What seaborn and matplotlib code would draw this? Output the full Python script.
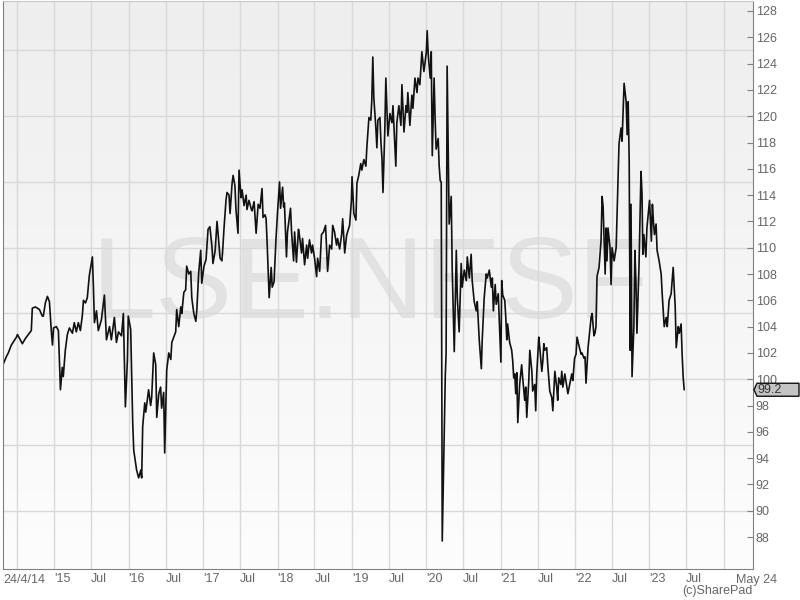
import matplotlib
matplotlib.use("Agg")
import matplotlib.pyplot as plt
import matplotlib.dates as mdates
import matplotlib.ticker as mticker
from matplotlib.colors import LinearSegmentedColormap
from matplotlib.patches import Polygon
import numpy as np
import pandas as pd
import seaborn as sns

# Cotações (LSE:NESF)
datas = [
    "2014-04-24", "2014-05-10", "2014-05-20", "2014-06-04", "2014-06-29", "2014-07-04", "2014-07-28",
    "2014-08-12", "2014-09-10", "2014-09-15", "2014-09-30", "2014-10-20", "2014-11-03", "2014-11-08",
    "2014-11-18", "2014-11-28", "2014-12-08", "2014-12-18", "2014-12-23", "2014-12-28",
    "2015-01-11", "2015-01-21", "2015-01-31", "2015-02-09", "2015-02-14", "2015-02-24", "2015-03-06",
    "2015-03-16", "2015-03-31", "2015-04-09", "2015-04-19", "2015-04-29", "2015-05-09", "2015-05-19",
    "2015-05-24", "2015-06-03", "2015-06-12", "2015-06-22", "2015-07-07", "2015-07-12", "2015-07-17",
    "2015-07-27", "2015-08-05", "2015-08-20", "2015-09-04", "2015-09-14", "2015-09-29", "2015-10-08",
    "2015-10-23", "2015-11-02", "2015-11-12", "2015-11-27", "2015-12-06", "2015-12-16", "2015-12-26",
    "2015-12-30",
    "2016-01-11", "2016-01-21", "2016-01-26", "2016-02-04", "2016-02-09", "2016-02-19", "2016-03-01",
    "2016-03-05", "2016-03-10", "2016-03-20", "2016-03-25", "2016-04-08", "2016-04-18", "2016-04-23",
    "2016-05-03", "2016-05-13", "2016-05-18", "2016-05-28", "2016-06-06", "2016-06-11", "2016-06-21",
    "2016-06-26", "2016-07-06", "2016-07-16", "2016-07-26", "2016-07-31", "2016-08-19", "2016-08-24",
    "2016-09-03", "2016-09-13", "2016-09-18", "2016-09-28", "2016-10-07", "2016-10-12", "2016-10-22",
    "2016-11-01", "2016-11-06", "2016-11-16", "2016-11-26", "2016-12-01", "2016-12-10", "2016-12-20",
    "2016-12-25",
    "2017-01-05", "2017-01-15", "2017-01-25", "2017-02-03", "2017-02-13", "2017-02-18", "2017-03-01",
    "2017-03-10", "2017-03-15", "2017-03-25", "2017-04-03", "2017-04-08", "2017-04-13", "2017-04-23",
    "2017-04-28", "2017-05-08", "2017-05-13", "2017-05-23", "2017-05-28", "2017-06-06", "2017-06-11",
    "2017-06-21", "2017-06-26", "2017-07-06", "2017-07-11", "2017-07-21", "2017-07-31", "2017-08-04",
    "2017-08-14", "2017-08-24", "2017-08-29", "2017-09-08", "2017-09-18", "2017-09-28", "2017-10-07",
    "2017-10-17", "2017-10-22", "2017-11-01", "2017-11-06", "2017-11-11", "2017-11-21", "2017-12-01",
    "2017-12-06", "2017-12-15", "2017-12-25",
    "2018-01-02", "2018-01-11", "2018-01-16", "2018-01-26", "2018-01-31", "2018-02-04", "2018-02-14",
    "2018-02-19", "2018-02-24", "2018-03-06", "2018-03-11", "2018-03-21", "2018-03-26", "2018-04-04",
    "2018-04-14", "2018-04-19", "2018-04-29", "2018-05-04", "2018-05-14", "2018-05-24", "2018-05-29",
    "2018-06-07", "2018-06-17", "2018-06-22", "2018-07-02", "2018-07-12", "2018-07-17", "2018-07-27",
    "2018-08-05", "2018-08-15", "2018-08-25", "2018-09-04", "2018-09-14", "2018-09-24", "2018-09-29",
    "2018-10-08", "2018-10-18", "2018-10-23", "2018-11-02", "2018-11-12", "2018-11-17", "2018-11-27",
    "2018-12-06", "2018-12-11", "2018-12-21", "2018-12-30",
    "2019-01-02", "2019-01-11", "2019-01-21", "2019-01-26", "2019-02-04", "2019-02-14", "2019-02-19",
    "2019-03-01", "2019-03-11", "2019-03-16", "2019-03-26", "2019-04-04", "2019-04-09", "2019-04-14",
    "2019-04-19", "2019-04-29", "2019-05-04", "2019-05-09", "2019-05-19", "2019-05-24", "2019-05-29",
    "2019-06-03", "2019-06-12", "2019-06-17", "2019-06-27", "2019-07-07", "2019-07-17", "2019-07-22",
    "2019-08-05", "2019-08-10", "2019-08-20", "2019-08-30", "2019-09-04", "2019-09-14", "2019-09-24",
    "2019-09-29", "2019-10-03", "2019-10-13", "2019-10-23", "2019-10-28", "2019-11-07", "2019-11-17",
    "2019-11-22", "2019-12-01", "2019-12-06", "2019-12-11", "2019-12-21",
    "2020-01-02", "2020-01-06", "2020-01-11", "2020-01-21", "2020-01-26", "2020-01-31", "2020-02-09",
    "2020-02-14", "2020-02-19", "2020-02-29", "2020-03-05", "2020-03-10", "2020-03-15", "2020-03-20",
    "2020-04-04", "2020-04-08", "2020-04-13", "2020-04-23", "2020-05-03", "2020-05-08", "2020-05-18",
    "2020-05-28", "2020-06-02", "2020-06-11", "2020-06-21", "2020-06-26", "2020-07-06", "2020-07-16",
    "2020-07-21", "2020-07-31", "2020-08-09", "2020-08-14", "2020-08-24", "2020-09-03", "2020-09-08",
    "2020-09-18", "2020-09-28", "2020-10-02", "2020-10-12", "2020-10-22", "2020-10-27", "2020-11-06",
    "2020-11-16", "2020-11-21", "2020-11-26", "2020-12-05", "2020-12-10", "2020-12-20",
    "2021-01-02", "2021-01-06", "2021-01-11", "2021-01-21", "2021-01-26", "2021-01-31", "2021-02-04",
    "2021-02-14", "2021-02-24", "2021-03-01", "2021-03-06", "2021-03-11", "2021-03-16", "2021-03-21",
    "2021-03-26", "2021-04-04", "2021-04-14", "2021-04-19", "2021-04-29", "2021-05-04", "2021-05-09",
    "2021-05-19", "2021-05-24", "2021-06-03", "2021-06-07", "2021-06-17", "2021-06-22", "2021-06-27",
    "2021-07-07", "2021-07-12", "2021-07-22", "2021-07-27", "2021-08-01", "2021-08-05", "2021-08-15",
    "2021-08-20", "2021-08-30", "2021-09-09", "2021-09-14", "2021-09-19", "2021-09-24", "2021-10-03",
    "2021-10-08", "2021-10-13", "2021-10-23", "2021-10-28", "2021-11-02", "2021-11-12", "2021-11-22",
    "2021-11-27", "2021-12-06", "2021-12-16", "2021-12-21", "2021-12-30",
    "2022-01-06", "2022-01-11", "2022-01-21", "2022-01-31", "2022-02-04", "2022-02-14", "2022-02-19",
    "2022-02-24", "2022-03-06", "2022-03-16", "2022-03-21", "2022-03-26", "2022-04-04", "2022-04-09",
    "2022-04-14", "2022-04-19", "2022-04-29", "2022-05-09", "2022-05-14", "2022-05-19", "2022-05-24",
    "2022-05-29", "2022-06-03", "2022-06-07", "2022-06-12", "2022-06-22", "2022-06-27", "2022-07-02",
    "2022-07-12", "2022-07-22", "2022-07-27", "2022-08-05", "2022-08-15", "2022-08-20", "2022-08-25",
    "2022-08-30", "2022-09-09", "2022-09-14", "2022-09-19", "2022-09-24", "2022-09-29", "2022-10-03",
    "2022-10-08", "2022-10-17", "2022-10-22", "2022-10-27", "2022-11-01", "2022-11-11", "2022-11-21",
    "2022-11-26", "2022-11-30", "2022-12-05", "2022-12-15", "2022-12-20",
    "2023-01-02", "2023-01-11", "2023-01-16", "2023-01-21", "2023-01-26", "2023-02-03", "2023-02-08",
    "2023-02-18", "2023-02-28", "2023-03-05", "2023-03-15", "2023-03-25", "2023-03-30", "2023-04-08",
    "2023-04-18", "2023-04-23", "2023-04-28", "2023-05-03", "2023-05-08", "2023-05-13", "2023-05-23",
    "2023-05-28", "2023-06-06", "2023-06-11", "2023-06-16", "2023-06-21",
]
precos = [
    101.1, 101.7, 102.0, 102.6, 103.2, 103.4, 102.7,
    103.1, 103.7, 105.4, 105.5, 105.3, 104.8, 104.8,
    105.8, 106.3, 105.9, 103.5, 102.6, 103.9,
    104.0, 103.7, 99.2, 100.9, 100.2, 102.2, 103.4,
    103.9, 103.5, 104.3, 103.6, 104.3, 103.7, 104.9,
    106.0, 105.8, 106.2, 107.9, 109.3, 107.0, 104.3,
    105.2, 103.7, 104.5, 106.4, 103.0, 104.0, 103.0,
    104.7, 102.8, 103.6, 103.3, 105.0, 97.9, 101.5,
    104.8,
    103.8, 96.7, 94.6, 93.6, 93.1, 92.5, 93.1,
    92.5, 96.4, 98.2, 97.5, 99.2, 98.0, 98.6,
    102.0, 101.1, 97.1, 98.9, 99.4, 97.8, 99.0,
    94.4, 100.7, 102.0, 101.5, 102.8, 103.6, 105.3,
    104.0, 105.5, 105.0, 106.6, 106.8, 108.6, 108.0,
    108.2, 106.2, 105.0, 104.4, 105.3, 108.1, 109.8,
    107.3,
    108.6, 109.1, 111.4, 111.6, 110.1, 108.8, 109.8,
    112.0, 111.1, 109.2, 109.0, 110.1, 111.4, 113.6,
    114.2, 114.0, 112.6, 114.9, 115.5, 114.7, 112.9,
    111.1, 115.9, 113.8, 114.4, 113.2, 114.0, 112.9,
    113.6, 113.0, 112.8, 113.5, 111.1, 113.3, 113.0,
    114.5, 112.3, 112.5, 112.2, 110.4, 106.2, 108.5,
    107.0, 107.4, 110.8,
    112.9, 115.0, 113.0, 114.6, 113.1, 113.4, 109.3,
    111.2, 111.8, 113.0, 111.2, 109.0, 111.2, 108.9,
    111.4, 110.9, 109.6, 110.7, 108.7, 110.2, 109.2,
    110.6, 109.6, 110.2, 109.2, 107.8, 109.2, 108.2,
    111.0, 111.2, 111.7, 108.2, 110.2, 109.9, 111.7,
    111.2, 110.2, 110.7, 109.9, 111.0, 112.2, 109.6,
    110.9, 111.2, 111.7, 113.6,
    115.4, 112.6, 112.1, 114.9, 115.5, 116.4, 115.9,
    116.7, 116.2, 117.7, 119.9, 119.7, 121.2, 124.5,
    121.4, 119.1, 117.6, 119.7, 119.9, 118.0, 116.8,
    114.2, 119.0, 122.9, 118.5, 120.2, 119.5, 120.8,
    116.2, 119.5, 120.8, 119.3, 122.4, 118.8, 120.8,
    120.3, 121.8, 119.3, 121.6, 120.6, 122.9, 121.8,
    122.9, 122.4, 123.6, 124.9, 123.4,
    124.9, 126.5, 124.7, 122.9, 124.9, 117.0, 122.9,
    119.8, 117.5, 118.3, 116.2, 115.1, 115.0, 87.7,
    100.3, 102.0, 123.8, 111.8, 113.9, 108.3, 102.1,
    109.8, 106.2, 103.6, 108.8, 107.0, 108.3, 107.5,
    109.3, 107.7, 109.5, 107.5, 105.9, 105.2, 105.9,
    102.9, 100.8, 102.9, 106.2, 108.0, 107.7, 108.3,
    107.0, 107.7, 105.2, 107.2, 105.7, 106.5,
    101.3, 107.5, 106.4, 106.0, 104.7, 103.0, 104.2,
    102.8, 102.2, 101.4, 100.1, 100.4, 98.9, 100.5,
    96.7, 99.6, 101.1, 100.1, 98.4, 99.4, 97.1,
    99.9, 102.2, 100.6, 99.1, 99.6, 97.6, 100.4,
    103.2, 102.4, 100.6, 101.4, 102.7, 102.2, 102.4,
    101.1, 99.1, 98.6, 97.6, 99.1, 100.6, 99.4,
    98.4, 100.1, 99.6, 100.6, 99.4, 100.4, 99.4,
    98.9, 99.6, 100.4, 99.9, 101.6,
    101.9, 103.2, 102.5, 101.9, 102.0, 101.6, 101.7,
    99.7, 102.4, 103.9, 104.7, 105.0, 103.3, 103.5,
    104.0, 107.8, 108.5, 110.6, 113.9, 113.1, 110.5,
    108.0, 111.5, 109.0, 111.5, 110.0, 107.2, 110.0,
    109.0, 110.0, 112.8, 117.9, 119.1, 118.1, 120.4,
    122.5, 121.1, 118.6, 121.1, 116.6, 102.2, 113.3,
    100.2, 104.0, 109.8, 107.5, 103.5, 108.5, 115.8,
    114.1, 109.5, 111.0, 109.3, 111.5,
    113.6, 110.5, 113.3, 112.0, 111.0, 111.8, 109.8,
    109.0, 108.0, 106.5, 104.0, 104.7, 104.0, 106.0,
    106.5, 107.5, 108.5, 107.0, 105.5, 102.4, 104.0,
    103.5, 104.2, 101.9, 100.2, 99.2,
]

# Eixo X: marcas semestrais (com grade) e trimestrais
marcas_x = ["2014-07-01", "2015-01-01", "2015-07-01", "2016-01-01", "2016-07-01", "2017-01-01",
            "2017-07-01", "2018-01-01", "2018-07-01", "2019-01-01", "2019-07-01", "2020-01-01",
            "2020-07-01", "2021-01-01", "2021-07-01", "2022-01-01", "2022-07-01", "2023-01-01",
            "2023-07-01", "2024-01-01"]
rotulos_x = ["", "'15", "Jul", "'16", "Jul", "'17", "Jul", "'18", "Jul", "'19", "Jul", "'20",
             "Jul", "'21", "Jul", "'22", "Jul", "'23", "Jul", ""]
marcas_trim = ["2014-10-01", "2015-04-01", "2015-10-01", "2016-04-01", "2016-10-01", "2017-04-01",
               "2017-10-01", "2018-04-01", "2018-10-01", "2019-04-01", "2019-10-01", "2020-04-01",
               "2020-10-01", "2021-04-01", "2021-10-01", "2022-04-01", "2022-10-01", "2023-04-01",
               "2023-10-01", "2024-04-01"]
marcas_y = list(range(88, 129, 2))
grade_y = list(range(90, 126, 5))
inicio, fim = "2014-04-24", "2024-05-24"
rotulo_inicio, rotulo_fim = "24/4/14", "May 24"
ticker_nome = "LSE:NESF"

df = pd.DataFrame({"Data": pd.to_datetime(datas), "Preco": precos})

sns.set_style("white")
plt.rcParams["font.family"] = ["Liberation Sans", "DejaVu Sans"]
cinza = "#666666"

fig = plt.figure(figsize=(8, 6), dpi=100)
ret = [3 / 800, 31 / 600, 750 / 800, 568 / 600]

# fundo em degradê + marca d'água
fundo = fig.add_axes(ret, zorder=0)
grad = np.linspace(0, 1, 256).reshape(-1, 1)
cmap = LinearSegmentedColormap.from_list("g", ["#eeeeee", "#fdfdfd"])
fundo.imshow(grad, aspect="auto", cmap=cmap, extent=[0, 1, 0, 1])
fundo.text(0.49, 0.493, ticker_nome, ha="center", va="center", fontsize=83,
           color="#e2e2e2", transform=fundo.transAxes)
fundo.axis("off")

ax = fig.add_axes(ret, zorder=1)
ax.set_facecolor("none")
for g in grade_y:
    ax.axhline(g, color="#d8d8d8", linewidth=1, zorder=0)
sns.lineplot(data=df, x="Data", y="Preco", ax=ax, color="#111111", linewidth=1.2)

ax.set_xlim(pd.Timestamp(inicio), pd.Timestamp(fim))
ax.set_ylim(85.57, 128.76)

ax.xaxis.set_major_locator(mticker.FixedLocator(mdates.date2num(pd.to_datetime(marcas_x))))
ax.xaxis.set_major_formatter(mticker.FixedFormatter(rotulos_x))
ax.xaxis.set_minor_locator(mticker.FixedLocator(mdates.date2num(pd.to_datetime(marcas_trim))))
ax.yaxis.tick_right()
ax.yaxis.set_major_locator(mticker.FixedLocator(marcas_y))

ax.grid(axis="x", which="major", color="#d8d8d8", linewidth=1)
ax.set_axisbelow(True)

ax.tick_params(axis="x", which="both", direction="in", length=4, color="#808080",
               labelsize=9, labelcolor=cinza, pad=3)
for lab in ax.get_xticklabels():
    lab.set_horizontalalignment("left")
ax.tick_params(axis="y", which="major", direction="in", length=4, color="#808080",
               labelsize=9, labelcolor=cinza, pad=2)

for lado in ["left", "bottom", "right"]:
    ax.spines[lado].set_color("#808080")
    ax.spines[lado].set_visible(True)
ax.spines["top"].set_color("#c8c8c8")
ax.set_xlabel("")
ax.set_ylabel("")

ax.text(0.0, -0.008, rotulo_inicio, transform=ax.transAxes, ha="left", va="top",
        fontsize=9, color=cinza)
ax.text(1.005, -0.008, rotulo_fim, transform=ax.transAxes, ha="center", va="top",
        fontsize=9, color=cinza)
fig.text(753 / 800, 0.005, "(c)SharePad", ha="right", va="bottom", fontsize=9, color=cinza)

# etiqueta do último preço
ultimo = precos[-1]
fig.canvas.draw()
px, py = ax.transData.transform((ax.get_xlim()[1], ultimo))
vert = [(px + 1, py), (px + 4, py + 6.5), (px + 46, py + 6.5), (px + 46, py - 6.5), (px + 4, py - 6.5)]
etiqueta = Polygon(vert, closed=True, transform=None, facecolor="#c4c4c4",
                   edgecolor="#111111", linewidth=1, zorder=5)
fig.add_artist(etiqueta)
fig.text((px + 4) / 800, py / 600, f"{ultimo:.1f}", ha="left", va="center",
         fontsize=9, color="#333333", zorder=6)

fig.savefig("out.png", dpi=100)
